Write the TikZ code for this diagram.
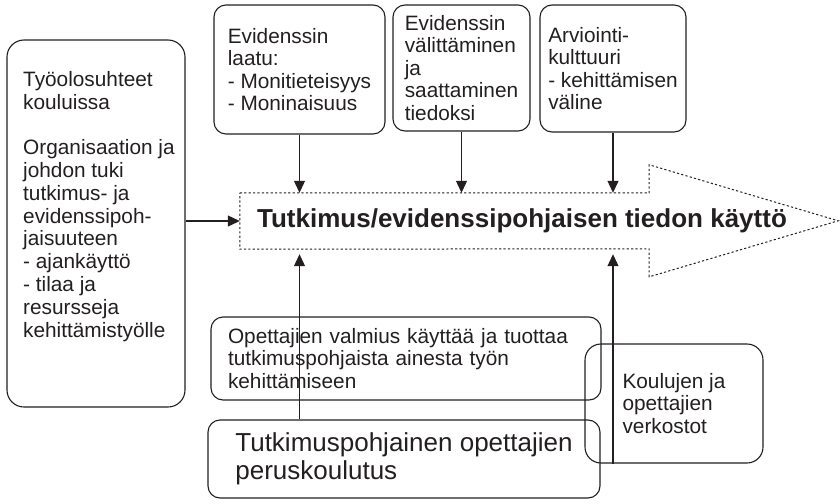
\documentclass[tikz,border=0pt]{standalone}
\usepackage{fontspec}
\setmainfont{Liberation Sans}
\usetikzlibrary{arrows.meta,positioning}
\definecolor{cInk}{HTML}{231F20}
\tikzset{
  box/.style    = {rectangle, rounded corners=12pt, draw=cInk, line width=1.1pt,
                   align=left, inner sep=0pt, text=cInk, font=\fontsize{20.8}{22.5}\selectfont},
  bigbox/.style = {box, font=\fontsize{26}{28}\selectfont},
  txt/.style    = {align=left, inner sep=0pt, text=cInk, font=\fontsize{20.8}{22.8}\selectfont},
  fl/.style     = {-{Triangle[length=12pt,width=11pt]}, draw=cInk, line width=1.1pt},
  flup/.style   = {fl, shorten >=5pt},
  flow/.style   = {draw=cInk, line width=1pt, dash pattern=on 2.2pt off 2.2pt},
  flowtxt/.style= {inner sep=0pt, text=cInk, font=\fontsize{26}{28}\selectfont\bfseries},
}

\begin{document}
\begin{tikzpicture}[x=1pt, y=-1pt]
  \useasboundingbox (0,0) rectangle (840,503);

  \node[box, minimum width=171, minimum height=129] (q1) at (299.5,69.5)
    {Evidenssin\\laatu:\\- Monitieteisyys\\- Moninaisuus};
  \node[box, minimum width=137, minimum height=126] (q2) at (461.5,68)
    {Evidenssin\\välittäminen\\ja\\saattaminen\\tiedoksi};
  \node[box, minimum width=146, minimum height=127] (q3) at (613,68.5)
    {Arviointi-\\kulttuuri\\- kehittämisen\\väline};

  \node[box, rounded corners=17pt, minimum width=178, minimum height=367] (cond) at (96,223.5) {};
  \node[txt, anchor=north west] (condtxt) at (23,71)
    {Työolosuhteet\\kouluissa\\[22.8pt]Organisaation ja\\johdon tuki\\tutkimus- ja\\evidenssipoh-\\jaisuuteen\\- ajankäyttö\\- tilaa ja\\resursseja\\kehittämistyölle};

  \node[inner sep=0pt, minimum width=409, minimum height=56] (use) at (444.5,221) {};
  \draw[flow] (use.north west) -- (use.north east) -- ++(0,-28) -- ++(189,56)
    -- ++(-189,56) -- ++(0,-28) -- (use.south west) -- cycle;
  \node[flowtxt] (usetxt) at (522,221) {Tutkimus/evidenssipohjaisen tiedon käyttö};

  \node[box, text width=356, inner xsep=17pt, minimum height=83] (prep) at (406,358.5)
    {Opettajien valmius käyttää ja tuottaa\\tutkimuspohjaista ainesta työn\\kehittämiseen};
  \node[bigbox, minimum width=392, minimum height=78] (edu) at (404,459)
    {Tutkimuspohjainen opettajien\\peruskoulutus};
  \node[box, rounded corners=16pt, minimum width=178, minimum height=119] (net) at (674,403.5)
    {Koulujen ja\\opettajien\\verkostot};

  \foreach \q in {q1,q2,q3}
    \draw[fl] (\q.south) -- (\q.south |- use.north);
  \draw[fl] (cond.east |- use.west) -- (use.west);
  \draw[flup] (edu.north -| q1.south) -- (use.south -| q1.south);
  \draw[flup] (net.south -| q3.south) -- (use.south -| q3.south);
\end{tikzpicture}
\end{document}
